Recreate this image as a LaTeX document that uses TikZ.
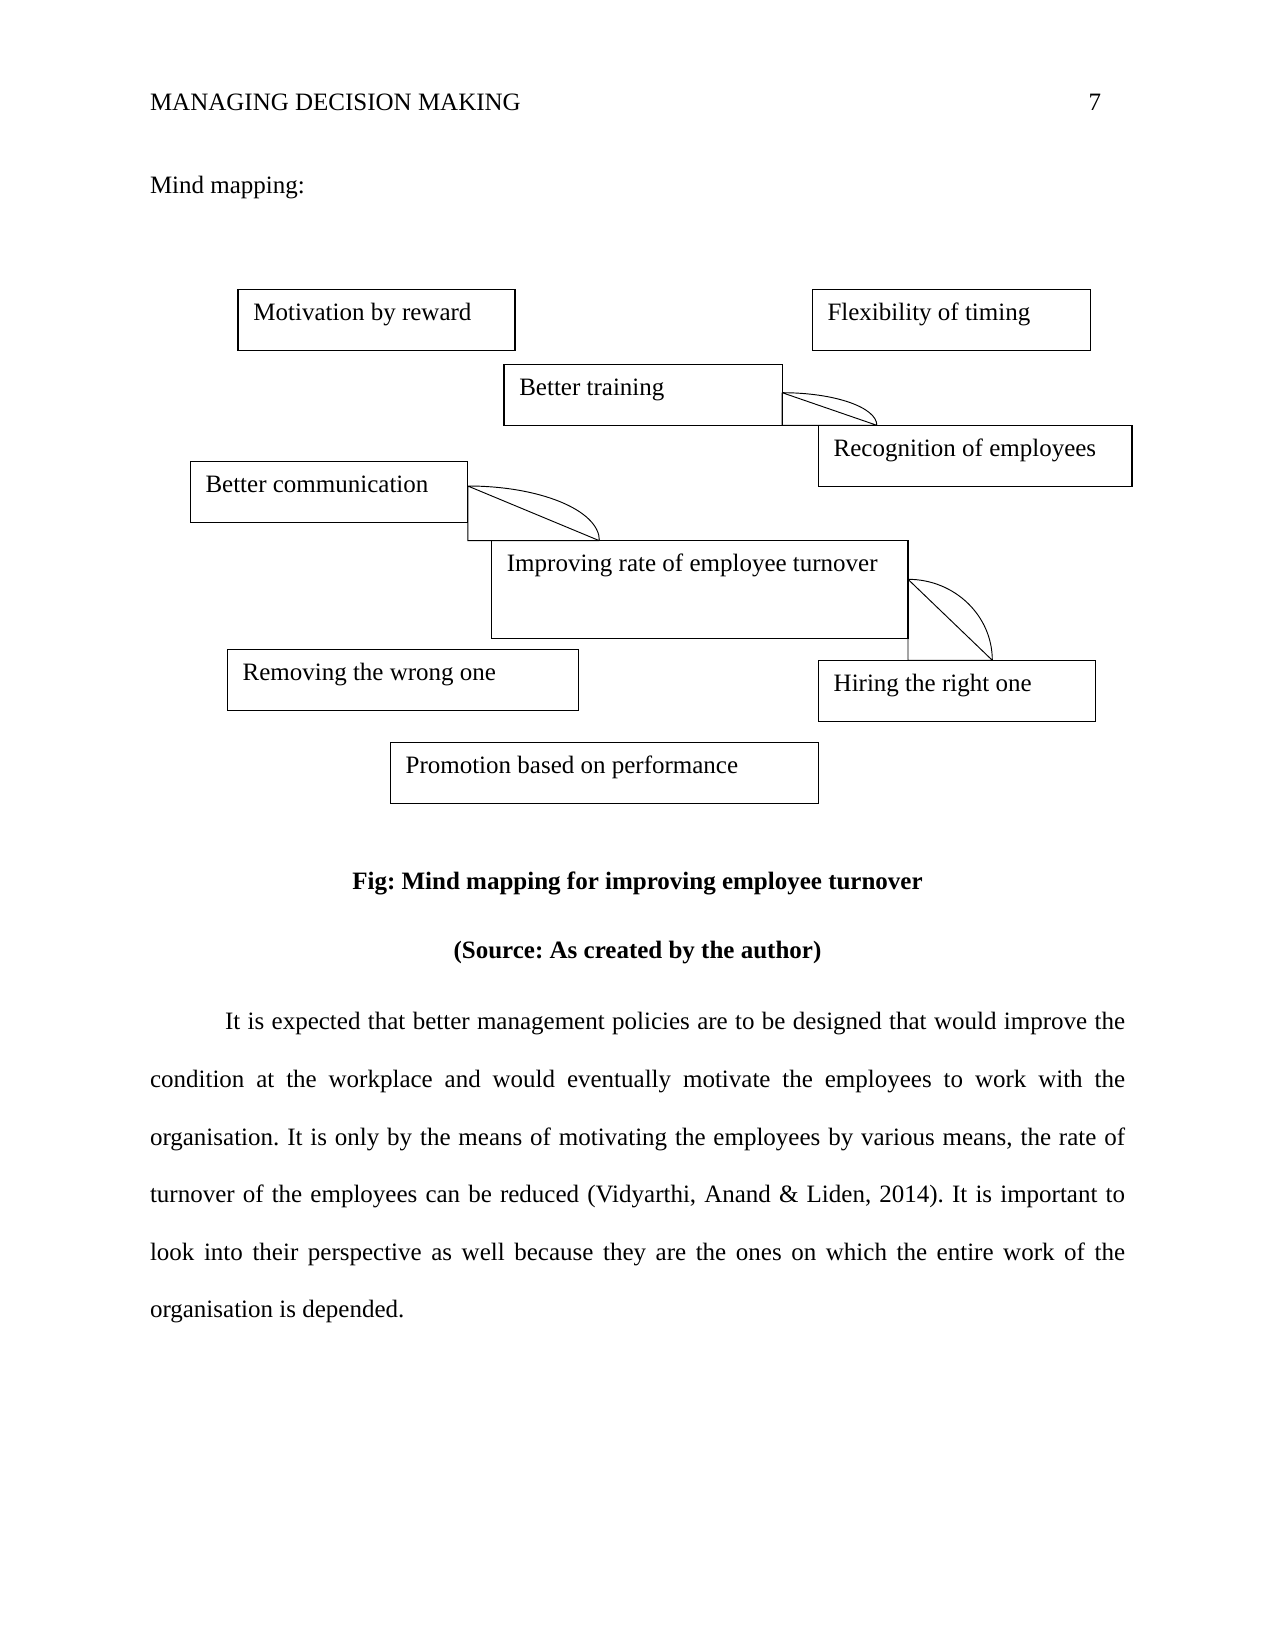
\documentclass[tikz,border=0pt]{standalone}
\usepackage{fontspec}
\setmainfont{Liberation Serif}
\usetikzlibrary{calc}
\frenchspacing
\begin{document}
\frenchspacing
\begin{tikzpicture}[x=0.48pt,y=-0.48pt,
  box/.style={draw, line width=0.65pt, inner sep=0pt, outer sep=0pt, anchor=north west},
  lbl/.style={anchor=base west, inner sep=0pt, outer sep=0pt, font=\fontsize{12}{14}\selectfont\frenchspacing},
  figcap/.style={anchor=base, inner sep=0pt, font=\fontsize{12}{14}\selectfont\bfseries\frenchspacing},
  conn/.style={line width=0.45pt}]
\useasboundingbox (0,0) rectangle (1275,1650);
% header
\node[lbl] (hdr) at (150,111) {MANAGING DECISION MAKING};
\node[lbl, anchor=base east] (pg) at (1101,111) {7};
\node[lbl] (mm) at (150,194) {Mind mapping:};
% boxes
\node[box, minimum width=277.0*0.48pt, minimum height=61*0.48pt] (mot) at (238.1,289.3) {};
\node[box, minimum width=278.2*0.48pt, minimum height=61*0.48pt] (flex) at (812.2,289.3) {};
\node[box, minimum width=278.2*0.48pt, minimum height=61*0.48pt] (train) at (504.0,364.3) {};
\node[box, minimum width=313.7*0.48pt, minimum height=61*0.48pt] (recog) at (818.4,425.3) {};
\node[box, minimum width=277.6*0.48pt, minimum height=60.6*0.48pt] (comm) at (190.2,461.7) {};
\node[box, minimum width=416.4*0.48pt, minimum height=97.6*0.48pt] (impr) at (491.6,540.7) {};
\node[box, minimum width=350.9*0.48pt, minimum height=61*0.48pt] (remov) at (227.3,649.3) {};
\node[box, minimum width=277.0*0.48pt, minimum height=61*0.48pt] (hire) at (818.4,660.3) {};
\node[box, minimum width=428.0*0.48pt, minimum height=61*0.48pt] (promo) at (390.3,742.3) {};
% box texts
\node[lbl] (tmot) at ($(mot.north west)+(15.3,31)$) {Motivation by reward};
\node[lbl] (tflex) at ($(flex.north west)+(15.3,31)$) {Flexibility of timing};
\node[lbl] (ttrain) at ($(train.north west)+(15.3,31)$) {Better training};
\node[lbl] (trecog) at ($(recog.north west)+(15.3,31)$) {Recognition of employees};
\node[lbl] (tcomm) at ($(comm.north west)+(15.3,31)$) {Better communication};
\node[lbl] (timpr) at ($(impr.north west)+(15.3,30.5)$) {Improving rate of employee turnover};
\node[lbl] (tremov) at ($(remov.north west)+(15.3,31)$) {Removing the wrong one};
\node[lbl] (thire) at ($(hire.north west)+(15.3,31)$) {Hiring the right one};
\node[lbl] (tpromo) at ($(promo.north west)+(15.3,31)$) {Promotion based on performance};
% connector end points
\coordinate (a1s) at ($(train.north east)!0.4656!(train.south east)$);
\coordinate (a1e) at ($(recog.north west)!0.1862!(recog.north east)$);
\coordinate (a2s) at ($(comm.north east)!0.401!(comm.south east)$);
\coordinate (a2e) at ($(impr.north west)!0.2589!(impr.north east)$);
\coordinate (a3s) at ($(impr.north east)!0.3955!(impr.south east)$);
\coordinate (a3e) at ($(hire.north west)!0.6278!(hire.north east)$);
% arc connectors
\foreach \s/\e in {a1s/a1e, a2s/a2e, a3s/a3e}{
  \draw[conn] let \p1=(\s), \p2=(\e) in
    (\s) .. controls ({\x1+0.5523*(\x2-\x1)},\y1) and (\x2,{\y2+0.5523*(\y1-\y2)}) .. (\e)
    (\s) -- (\e)
    (\s) -- (\x1,\y2) -- (\e);
}
% caption
\node[figcap] (fig) at (637.5,889) {Fig: Mind mapping for improving employee turnover};
\node[figcap] (src) at (637.5,958) {(Source: As created by the author)};
% paragraph
\node[lbl] (p1) at (225,1029.5) {\makebox[432pt][s]{It is expected that better management policies are to be designed that would improve the}};
\node[lbl] (p2) at (150,1087.3) {\makebox[468pt][s]{condition at the workplace and would eventually motivate the employees to work with the}};
\node[lbl] (p3) at (150,1145) {\makebox[468pt][s]{organisation. It is only by the means of motivating the employees by various means, the rate of}};
\node[lbl] (p4) at (150,1202.5) {\makebox[468pt][s]{turnover of the employees can be reduced (Vidyarthi, Anand \& Liden, 2014). It is important to}};
\node[lbl] (p5) at (150,1260) {\makebox[468pt][s]{look into their perspective as well because they are the ones on which the entire work of the}};
\node[lbl] (p6) at (150,1317.5) {organisation is depended.};
\end{tikzpicture}
\end{document}
